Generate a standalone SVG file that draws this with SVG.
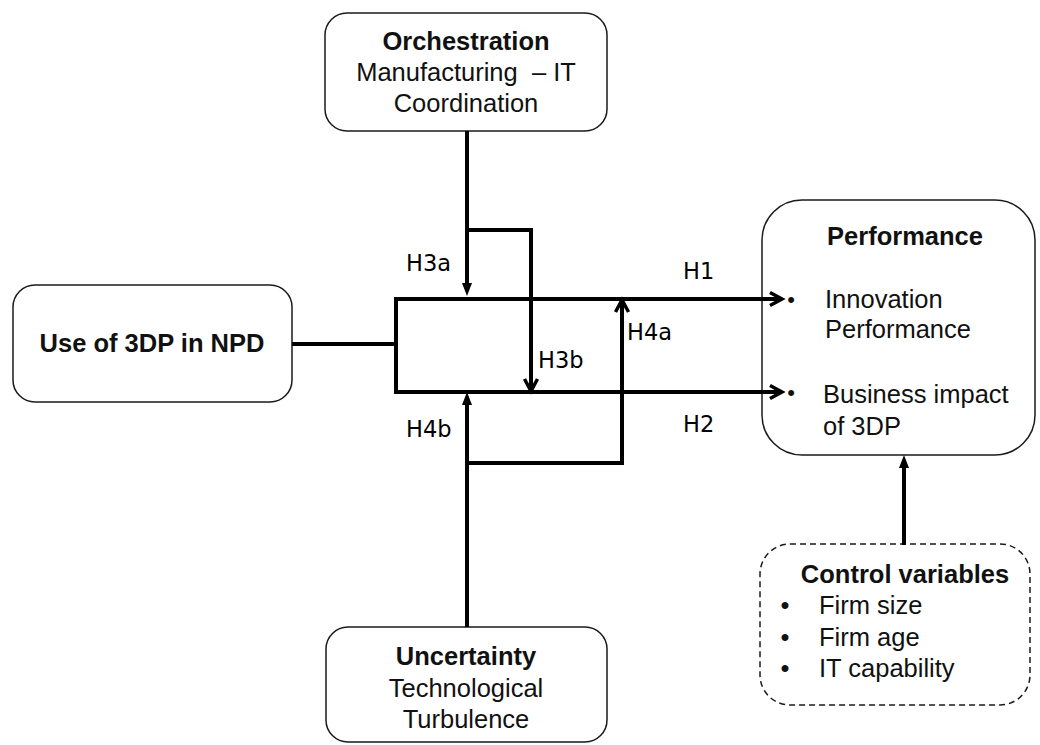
<svg xmlns="http://www.w3.org/2000/svg" width="1040" height="745" viewBox="0 0 1040 745">
<style>
.box{fill:#fff;stroke:#1a1a1a;stroke-width:1.5}
.dash{fill:#fff;stroke:#1a1a1a;stroke-width:1.5;stroke-dasharray:6 4}
.t{font-family:"Liberation Sans",Arial,sans-serif;font-size:25.5px;fill:#111}
.b{font-weight:bold}
.c{text-anchor:middle}
.h{font-family:"DejaVu Sans",Verdana,sans-serif;font-size:22.5px;fill:#000}
.ln{fill:none;stroke:#000;stroke-width:4}
</style>
<defs>
<marker id="fill" markerUnits="userSpaceOnUse" viewBox="0 0 13 10" refX="3" refY="5" markerWidth="13" markerHeight="10" orient="auto">
<path d="M0,0 L13,5 L0,10 Z" fill="#000"/>
</marker>
<marker id="open" markerUnits="userSpaceOnUse" viewBox="0 0 18 18" refX="14" refY="9" markerWidth="18" markerHeight="18" orient="auto">
<path d="M2,2.5 L14,9 L2,15.5" fill="none" stroke="#000" stroke-width="3.5"/>
</marker>
</defs>
<g id="orchestration">
<rect class="box" x="325" y="13" width="282" height="118" rx="22"/>
<text class="t b c" x="466" y="50">Orchestration</text>
<text class="t c" x="466" y="81">Manufacturing&#160; – IT</text>
<text class="t c" x="466" y="112">Coordination</text>
</g>
<g id="use3dp">
<rect class="box" x="13" y="285" width="279" height="117" rx="22"/>
<text class="t b c" x="152" y="352">Use of 3DP in NPD</text>
</g>
<g id="uncertainty">
<rect class="box" x="326" y="627" width="281" height="115" rx="22"/>
<text class="t b c" x="466" y="665">Uncertainty</text>
<text class="t c" x="466" y="697">Technological</text>
<text class="t c" x="466" y="728">Turbulence</text>
</g>
<g id="performance">
<rect class="box" x="762" y="200" width="273" height="255" rx="40"/>
<text class="t b c" x="905" y="245">Performance</text>
<text class="t c" x="791" y="307" style="font-size:22px">•</text>
<text class="t" x="825" y="308">Innovation</text>
<text class="t" x="825" y="338">Performance</text>
<text class="t c" x="791" y="400" style="font-size:22px">•</text>
<text class="t" x="823" y="403">Business impact</text>
<text class="t" x="823" y="435">of 3DP</text>
</g>
<g id="control">
<rect class="dash" x="760" y="544" width="270" height="161" rx="30"/>
<text class="t b c" x="905" y="583">Control variables</text>
<text class="t c" x="785" y="614">•</text>
<text class="t" x="819" y="614">Firm size</text>
<text class="t c" x="785" y="646">•</text>
<text class="t" x="819" y="646">Firm age</text>
<text class="t c" x="785" y="677">•</text>
<text class="t" x="819" y="677">IT capability</text>
</g>
<g id="connectors">
<path class="ln" d="M292,344 H396"/>
<path class="ln" d="M396,297 V394"/>
<path class="ln" d="M394,299 H782" marker-end="url(#open)"/>
<path class="ln" d="M394,392 H782" marker-end="url(#open)"/>
<path class="ln" d="M467,131 V286" marker-end="url(#fill)"/>
<path class="ln" d="M467,230 H531 V391" marker-end="url(#open)"/>
<path class="ln" d="M467,627 V402" marker-end="url(#fill)"/>
<path class="ln" d="M467,463 H622 V300" marker-end="url(#open)"/>
<path class="ln" d="M904,545 V465" marker-end="url(#fill)"/>
<text class="h" x="406" y="271">H3a</text>
<text class="h" x="538" y="368">H3b</text>
<text class="h" x="627" y="340">H4a</text>
<text class="h" x="406" y="437">H4b</text>
<text class="h" x="683" y="279">H1</text>
<text class="h" x="683" y="432">H2</text>
</g>
</svg>
